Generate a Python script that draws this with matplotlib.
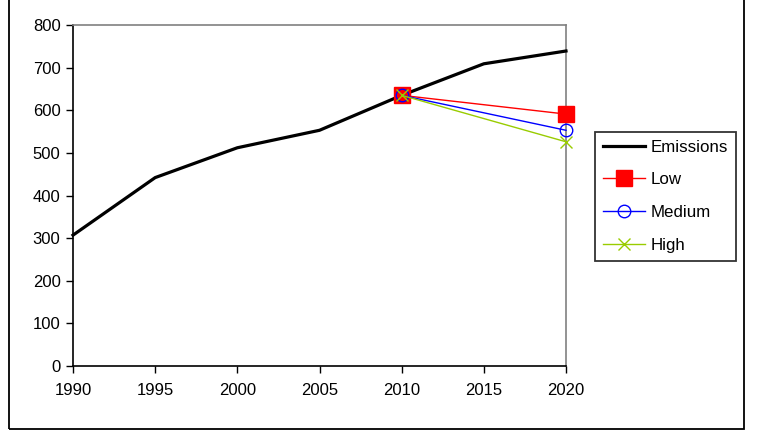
import matplotlib
matplotlib.use("Agg")
import matplotlib.pyplot as plt
from matplotlib.patches import Rectangle

years = [1990, 1995, 2000, 2005, 2010, 2015, 2020]
emissions = [307, 442, 512, 553, 635, 709, 739]
scen_years = [2010, 2020]
low = [635, 591]
medium = [635, 553]
high = [635, 526]
xticks = [1990, 1995, 2000, 2005, 2010, 2015, 2020]
yticks = [0, 100, 200, 300, 400, 500, 600, 700, 800]

plt.rcParams['font.family'] = ['Liberation Sans', 'DejaVu Sans']

fig = plt.figure(figsize=(7.68, 4.32), dpi=100)
ax = fig.add_axes([73/768, 66/432, (566-73)/768, (366-25)/432])

ax.plot(years, emissions, color='black', lw=2.3, label='Emissions', zorder=3,
        clip_on=False)
ax.plot(scen_years, low, color='#ff0000', lw=1, marker='s', ms=11,
        markerfacecolor='#ff0000', markeredgecolor='#ff0000', label='Low', zorder=4,
        clip_on=False)
ax.plot(scen_years, medium, color='#0000ff', lw=1, marker='o', ms=9,
        markerfacecolor='none', markeredgecolor='#0000ff', mew=1, label='Medium',
        zorder=5, clip_on=False)
ax.plot(scen_years, high, color='#99cc00', lw=1, marker='x', ms=9, mew=1,
        label='High', zorder=6, clip_on=False)

ax.set_xlim(1990, 2020)
ax.set_ylim(0, 800)
ax.set_xticks(xticks)
ax.set_yticks(yticks)
ax.tick_params(axis='both', direction='out', length=5, width=1, labelsize=12,
               colors='black', pad=4)
ax.tick_params(axis='x', pad=7)
for s in ['left', 'bottom']:
    ax.spines[s].set_color('black')
    ax.spines[s].set_linewidth(1.2)
for s in ['top', 'right']:
    ax.spines[s].set_color('#808080')
    ax.spines[s].set_linewidth(1.2)

leg = fig.legend(loc='upper left', bbox_to_anchor=(595/768, 1-132/432),
                 bbox_transform=fig.transFigure, frameon=True, fancybox=False,
                 edgecolor='black', fontsize=12.2, handlelength=2.5,
                 handletextpad=0.35, labelspacing=1.05, borderpad=0.45,
                 borderaxespad=0)
leg.get_frame().set_linewidth(1.3)

fig.patches.append(Rectangle((9/768, 3/432), (744-9)/768, 1.2, transform=fig.transFigure,
                             fill=False, edgecolor='black', lw=1.3, zorder=0))

fig.savefig('out.png', dpi=100)
